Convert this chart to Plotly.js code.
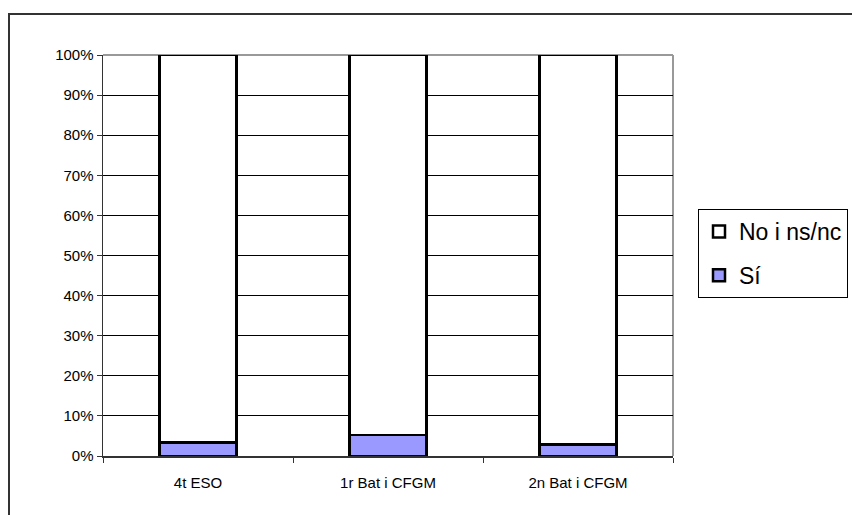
<!DOCTYPE html>
<html>
<head>
<meta charset="utf-8">
<script src="https://cdn.plot.ly/plotly-3.0.1.min.js"></script>
<style>
  html, body { margin: 0; padding: 0; background: #fff; }
  #chart { width: 852px; height: 515px; }
</style>
</head>
<body>
<div id="chart"></div>
<script>
const categories = ["4t ESO", "1r Bat i CFGM", "2n Bat i CFGM"];
const siValues = [3.4, 5.2, 2.9];
const noValues = [96.6, 94.8, 97.1];
const yTickVals = [0, 10, 20, 30, 40, 50, 60, 70, 80, 90, 100];
const yTickText = ["0%", "10%", "20%", "30%", "40%", "50%", "60%", "70%", "80%", "90%", "100%"];

const FONT = "Liberation Sans, Arial, sans-serif";

const traces = [
  {
    type: "bar",
    name: "Sí",
    x: categories,
    y: siValues,
    legendgroup: "si",
    legendrank: 2,
    marker: { color: "#9999FF", line: { color: "#000", width: 2.5 } },
    hoverinfo: "skip"
  },
  {
    type: "bar",
    name: "No i ns/nc",
    x: categories,
    y: noValues,
    legendgroup: "no",
    legendrank: 1,
    marker: { color: "#FFFFFF", line: { color: "#000", width: 2.5 } },
    hoverinfo: "skip"
  }
];

const L = 103, R = 673, T = 55, B = 456, W = 852, H = 515;
const pw = R - L, ph = B - T;
const px = v => (v - L) / pw;
const py = v => (B - v) / ph;

const layout = {
  width: W,
  height: H,
  margin: { l: L, r: W - R, t: T, b: H - B, pad: 0, autoexpand: false },
  paper_bgcolor: "#fff",
  plot_bgcolor: "#fff",
  barmode: "stack",
  bargap: 0.595,
  showlegend: true,
  font: { family: FONT, color: "#000" },
  xaxis: {
    type: "category",
    tickson: "boundaries",
    ticks: "outside",
    ticklen: 5,
    tickcolor: "#333",
    tickwidth: 1,
    showline: true,
    linecolor: "#333",
    linewidth: 1.5,
    showgrid: false,
    zeroline: false,
    tickfont: { family: FONT, size: 15, color: "#000" },
    ticklabelstandoff: 12
  },
  yaxis: {
    range: [0, 100],
    tickmode: "array",
    tickvals: yTickVals,
    ticktext: yTickText,
    ticks: "outside",
    ticklen: 5,
    tickcolor: "#333",
    showline: true,
    linecolor: "#333",
    linewidth: 1.5,
    showgrid: true,
    gridcolor: "#000",
    gridwidth: 1,
    zeroline: false,
    tickfont: { family: FONT, size: 15, color: "#000" }
  },
  legend: {
    x: px(698),
    y: py(209),
    xanchor: "left",
    yanchor: "top",
    bordercolor: "#000",
    borderwidth: 1,
    bgcolor: "#fff",
    font: { family: FONT, size: 23, color: "#000" },
    traceorder: "grouped",
    tracegroupgap: 11,
    itemclick: false,
    itemdoubleclick: false
  },
  shapes: [
    {
      type: "line", xref: "paper", yref: "paper",
      x0: 0, x1: 1, y0: 1, y1: 1,
      line: { color: "#999", width: 2 }, layer: "below"
    },
    {
      type: "line", xref: "paper", yref: "paper",
      x0: 1, x1: 1, y0: 0, y1: 1,
      line: { color: "#999", width: 2 }, layer: "below"
    },
    {
      type: "rect", xref: "paper", yref: "paper",
      x0: px(9), x1: px(870), y0: py(540), y1: py(14),
      line: { color: "#333", width: 2 }, fillcolor: "rgba(0,0,0,0)", layer: "below"
    }
  ]
};

Plotly.newPlot("chart", traces, layout, { displayModeBar: false, staticPlot: true });
</script>
</body>
</html>
